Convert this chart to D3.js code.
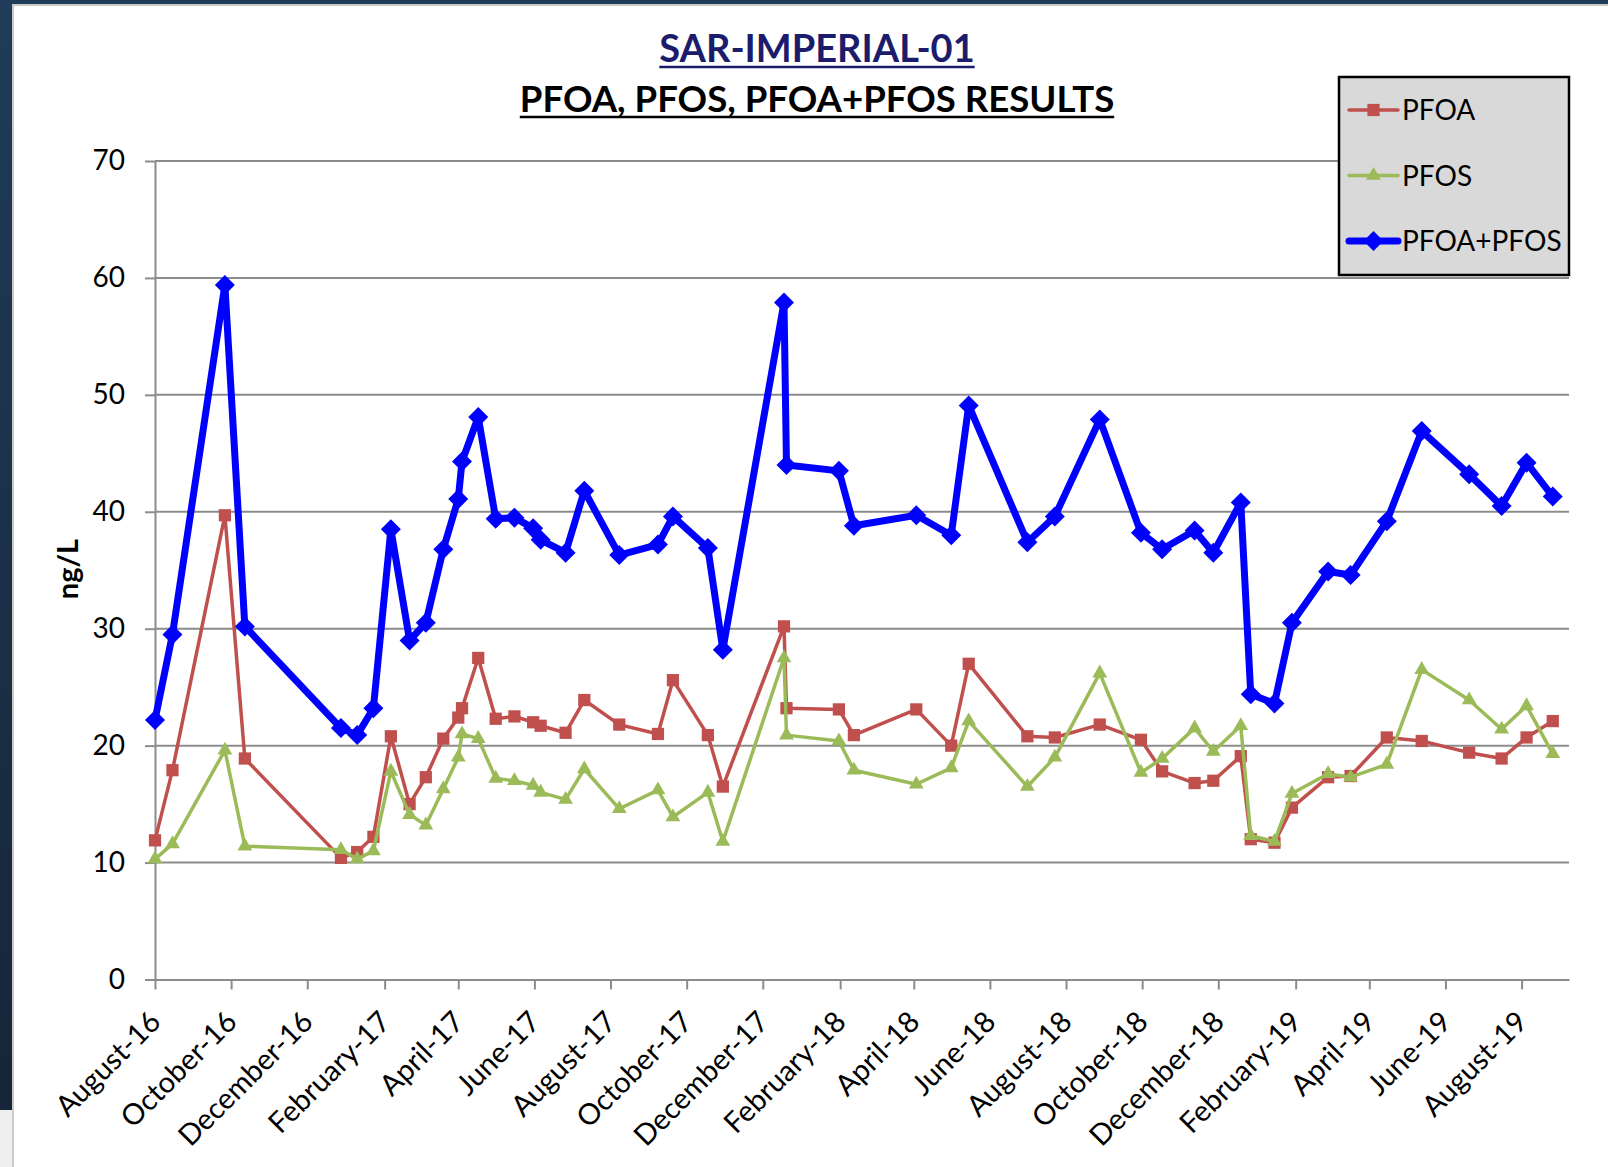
<!DOCTYPE html>
<html>
<head>
<meta charset="utf-8">
<script src="https://cdn.jsdelivr.net/npm/d3@7"></script>
<style>
  body { margin: 0; background: #fff; }
  svg { display: block; font-family: Lato, "Liberation Sans", sans-serif; }
</style>
</head>
<body>
<script>
// sample dates and results (ng/L)
const dates = [
  "2016-08-01", "2016-08-15", "2016-09-26", "2016-10-12", "2016-12-28", "2017-01-10",
  "2017-01-23", "2017-02-06", "2017-02-21", "2017-03-06", "2017-03-20", "2017-04-01",
  "2017-04-04", "2017-04-17", "2017-05-01", "2017-05-16", "2017-05-31", "2017-06-06",
  "2017-06-26", "2017-07-11", "2017-08-08", "2017-09-08", "2017-09-20", "2017-10-18",
  "2017-10-30", "2017-12-18", "2017-12-20", "2018-01-31", "2018-02-12", "2018-04-03",
  "2018-05-01", "2018-05-15", "2018-07-01", "2018-07-23", "2018-08-28", "2018-09-30",
  "2018-10-17", "2018-11-12", "2018-11-27", "2018-12-19", "2018-12-27", "2019-01-15",
  "2019-01-29", "2019-02-27", "2019-03-17", "2019-04-15", "2019-05-13", "2019-06-20",
  "2019-07-16", "2019-08-05", "2019-08-26"
];
const pfoa = [
  11.9, 17.9, 39.7, 18.9, 10.4, 10.9, 12.2, 20.8, 15.0, 17.3, 20.6, 22.4,
  23.2, 27.5, 22.3, 22.5, 22.0, 21.7, 21.1, 23.9, 21.8, 21.0, 25.6, 20.9,
  16.5, 30.2, 23.2, 23.1, 20.9, 23.1, 20.0, 27.0, 20.8, 20.7, 21.8, 20.5,
  17.8, 16.8, 17.0, 19.1, 12.0, 11.7, 14.7, 17.3, 17.4, 20.7, 20.4, 19.4,
  18.9, 20.7, 22.1
];
const pfos = [
  10.3, 11.6, 19.6, 11.4, 11.1, 10.3, 11.0, 17.8, 14.1, 13.2, 16.3, 19.0,
  21.0, 20.6, 17.2, 17.0, 16.6, 16.0, 15.4, 18.0, 14.6, 16.2, 13.9, 16.0,
  11.8, 27.5, 20.9, 20.4, 17.9, 16.7, 18.1, 22.1, 16.5, 19.0, 26.2, 17.7,
  18.9, 21.5, 19.5, 21.7, 12.3, 11.8, 15.9, 17.6, 17.3, 18.4, 26.5, 23.9,
  21.4, 23.4, 19.3
];
const pfoaPfos = [
  22.2, 29.5, 59.4, 30.2, 21.5, 20.9, 23.2, 38.5, 29.0, 30.5, 36.8, 41.1,
  44.3, 48.1, 39.4, 39.5, 38.6, 37.6, 36.5, 41.8, 36.3, 37.2, 39.6, 36.9,
  28.2, 57.9, 44.0, 43.5, 38.8, 39.7, 38.0, 49.1, 37.4, 39.6, 47.9, 38.2,
  36.8, 38.4, 36.5, 40.8, 24.4, 23.6, 30.5, 34.9, 34.6, 39.2, 46.9, 43.2,
  40.5, 44.2, 41.3
];
const seriesNames = ["PFOA", "PFOS", "PFOA+PFOS"];
const seriesColors = ["#C0504D", "#9BBB59", "#0000FF"];
const yTicks = [0, 10, 20, 30, 40, 50, 60, 70];

const width = 1608, height = 1167;
const plotLeft = 155, plotRight = 1569, plotTop = 161, plotBottom = 979.5;

const parse = d3.timeParse("%Y-%m-%d");
const x = d3.scaleTime()
  .domain([parse("2016-08-01"), parse("2019-09-08")])
  .range([plotLeft, plotRight]);
const y = d3.scaleLinear().domain([0, 70]).range([plotBottom, plotTop]);

const svg = d3.select("body").append("svg")
  .attr("width", width)
  .attr("height", height);

// slide background: dark frame on the left and top
const defs = svg.append("defs");
const grad = defs.append("linearGradient").attr("id", "frame")
  .attr("x1", 0).attr("y1", 0).attr("x2", 0).attr("y2", 1);
grad.append("stop").attr("offset", "0%").attr("stop-color", "#1f3c59");
grad.append("stop").attr("offset", "100%").attr("stop-color", "#172538");

svg.append("rect").attr("width", width).attr("height", height).attr("fill", "#fff");
svg.append("rect").attr("x", 0).attr("y", 0).attr("width", 12).attr("height", 1110).attr("fill", "url(#frame)");
svg.append("rect").attr("x", 0).attr("y", 0).attr("width", width).attr("height", 4).attr("fill", "#1f3c59");
svg.append("rect").attr("x", 0).attr("y", 1110).attr("width", 12).attr("height", 57).attr("fill", "#eeeeee");
svg.append("rect").attr("x", 13).attr("y", 5).attr("width", width).attr("height", height)
  .attr("fill", "none").attr("stroke", "#c9c9c9").attr("stroke-width", 2);

// title
const titles = [
  {text: "SAR-IMPERIAL-01", y: 62, size: 38, color: "#1c1c6c"},
  {text: "PFOA, PFOS, PFOA+PFOS RESULTS", y: 112, size: 36.6, color: "#000"}
];
titles.forEach(t => {
  const tx = svg.append("text")
    .attr("x", 817).attr("y", t.y)
    .attr("text-anchor", "middle")
    .attr("font-weight", "bold")
    .attr("font-size", t.size)
    .attr("fill", t.color)
    .text(t.text);
  const w = tx.node().getComputedTextLength();
  svg.append("line")
    .attr("x1", 817 - w / 2).attr("x2", 817 + w / 2)
    .attr("y1", t.y + 5).attr("y2", t.y + 5)
    .attr("stroke", t.color).attr("stroke-width", 2.5);
});

// gridlines
svg.append("g").selectAll("line")
  .data(yTicks.filter(d => d > 0))
  .enter().append("line")
  .attr("x1", plotLeft).attr("x2", plotRight)
  .attr("y1", d => y(d)).attr("y2", d => y(d))
  .attr("stroke", "#8c8c8c").attr("stroke-width", 2);

// y axis
const yAxis = svg.append("g")
  .attr("transform", `translate(${plotLeft},0)`)
  .call(d3.axisLeft(y).tickValues(yTicks).tickSize(10).tickPadding(20).tickSizeOuter(0));
yAxis.select(".domain").attr("stroke", "#8c8c8c").attr("stroke-width", 2);
yAxis.selectAll(".tick line").attr("stroke", "#8c8c8c").attr("stroke-width", 2);
yAxis.selectAll("text").attr("font-size", 28).attr("fill", "#000")
  .attr("font-family", "Lato, sans-serif");

// x axis, every second month
const xTicks = d3.timeMonth.range(parse("2016-08-01"), parse("2019-09-08"), 2);
const xAxis = svg.append("g")
  .attr("transform", `translate(0,${plotBottom})`)
  .call(d3.axisBottom(x).tickValues(xTicks).tickFormat(d3.timeFormat("%B-%y"))
    .tickSize(10).tickSizeOuter(0));
xAxis.select(".domain").attr("stroke", "#8c8c8c").attr("stroke-width", 2);
xAxis.selectAll(".tick line").attr("stroke", "#8c8c8c").attr("stroke-width", 2);
xAxis.selectAll("text")
  .attr("font-size", 29).attr("fill", "#000")
  .attr("font-family", "Lato, sans-serif")
  .attr("text-anchor", "end")
  .attr("x", 0).attr("y", 0).attr("dy", 0)
  .attr("transform", "translate(7,44) rotate(-45)");

// y axis title
svg.append("text")
  .attr("transform", "translate(78,569) rotate(-90)")
  .attr("text-anchor", "middle")
  .attr("font-weight", "bold")
  .attr("font-size", 29)
  .text("ng/L");

// series
const series = [pfoa, pfos, pfoaPfos].map((vals, i) => ({
  name: seriesNames[i],
  color: seriesColors[i],
  values: vals.map((v, j) => ({date: parse(dates[j]), value: v}))
}));
const lineWidths = [3.5, 3.5, 7];
const markers = [
  d3.symbol(d3.symbolSquare, 150),
  d3.symbol(d3.symbolTriangle, 95),
  d3.symbol(d3.symbolSquare, 200)
];
const markerRotate = [0, 0, 45];

const line = d3.line().x(d => x(d.date)).y(d => y(d.value));

series.forEach((s, i) => {
  const g = svg.append("g");
  g.append("path")
    .datum(s.values)
    .attr("d", line)
    .attr("fill", "none")
    .attr("stroke", s.color)
    .attr("stroke-width", lineWidths[i])
    .attr("stroke-linejoin", "round");
  g.selectAll("path.m")
    .data(s.values)
    .enter().append("path")
    .attr("class", "m")
    .attr("d", markers[i])
    .attr("fill", s.color)
    .attr("transform", d => `translate(${x(d.date)},${y(d.value)}) rotate(${markerRotate[i]})`);
});

// legend
const legend = svg.append("g");
legend.append("rect")
  .attr("x", 1339).attr("y", 77).attr("width", 230).attr("height", 198)
  .attr("fill", "#d9d9d9").attr("stroke", "#000").attr("stroke-width", 2.5);
series.forEach((s, i) => {
  const cy = 110 + i * 65.5;
  legend.append("line")
    .attr("x1", 1349).attr("x2", 1398).attr("y1", cy).attr("y2", cy)
    .attr("stroke", s.color).attr("stroke-width", lineWidths[i])
    .attr("stroke-linecap", "round");
  legend.append("path")
    .attr("d", markers[i])
    .attr("fill", s.color)
    .attr("transform", `translate(1373.5,${cy}) rotate(${markerRotate[i]})`);
  legend.append("text")
    .attr("x", 1402).attr("y", cy + 10)
    .attr("font-size", 28)
    .text(s.name);
});
</script>
</body>
</html>
